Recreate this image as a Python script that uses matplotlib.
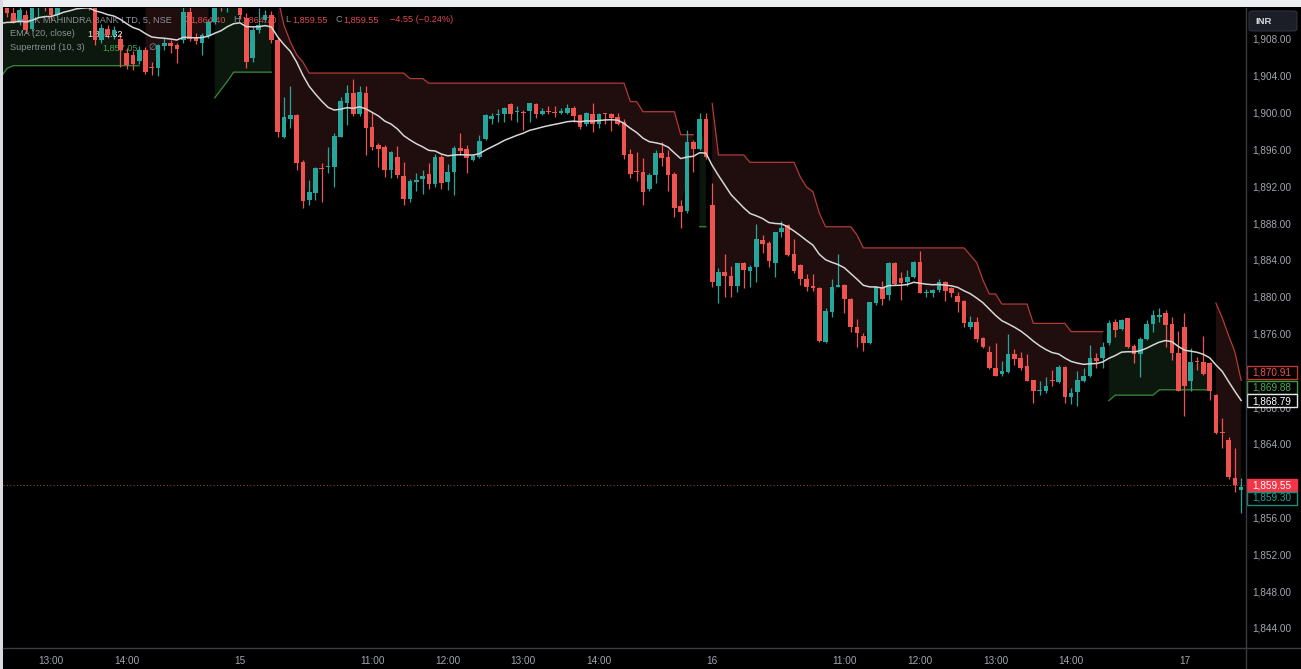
import numpy as np
import matplotlib
matplotlib.use("Agg")
import matplotlib.pyplot as plt
from matplotlib.patches import Rectangle, FancyBboxPatch
from matplotlib.lines import Line2D

# ---------------- data (5-minute bars) ----------------
opens = [
    1910.2, 1912.1, 1910.8, 1909.8, 1910.6, 1909.1, 1911.8, 1912.9, 1911.6, 1910.6,
    1912.5, 1913.4, 1912.6, 1913.2, 1912.1, 1911.8, 1907.9, 1909.1, 1908.4, 1908.0,
    1906.5, 1906.3, 1905.6, 1906.8, 1904.9, 1904.9, 1907.2, 1907.6, 1907.3, 1907.9,
    1910.9, 1908.2, 1907.6, 1908.3, 1909.8, 1913.0, 1911.5, 1913.5, 1913.2, 1910.3,
    1905.9, 1909.0, 1910.1, 1910.6, 1907.9, 1897.3, 1899.3, 1899.7, 1894.6, 1890.5,
    1891.3, 1894.0, 1894.1, 1894.1, 1897.4, 1901.1, 1902.1, 1899.8, 1902.1, 1898.4,
    1896.5, 1896.3, 1893.8, 1895.2, 1893.1, 1890.6, 1892.5, 1892.8, 1893.3, 1892.2,
    1895.2, 1892.5, 1893.5, 1896.2, 1896.0, 1894.8, 1895.2, 1897.1, 1899.3, 1899.7,
    1899.8, 1900.9, 1900.1, 1900.1, 1900.2, 1900.9, 1899.9, 1900.2, 1900.1, 1900.0,
    1900.0, 1900.5, 1899.7, 1898.8, 1899.9, 1898.8, 1899.9, 1899.9, 1899.5, 1899.0,
    1895.5, 1893.7, 1893.6, 1891.7, 1893.2, 1895.6, 1895.2, 1893.3, 1889.8, 1889.3,
    1896.8, 1896.0, 1899.3, 1890.0, 1881.2, 1882.7, 1882.2, 1881.2, 1883.7, 1882.8,
    1883.2, 1886.2, 1885.8, 1883.7, 1887.0, 1887.8, 1884.6, 1883.4, 1881.9, 1881.2,
    1880.9, 1875.1, 1878.3, 1881.1, 1881.3, 1879.8, 1876.7, 1875.7, 1875.0, 1879.3,
    1881.0, 1880.2, 1883.7, 1882.0, 1881.6, 1882.1, 1883.8, 1880.4, 1880.4, 1880.7,
    1881.6, 1880.9, 1880.1, 1879.5, 1876.7, 1877.3, 1875.5, 1874.0, 1872.3, 1871.6,
    1871.8, 1873.8, 1873.3, 1872.5, 1870.9, 1869.7, 1869.7, 1870.9, 1870.7, 1872.4,
    1869.1, 1869.6, 1870.8, 1871.4, 1873.3, 1873.3, 1875.0, 1877.2, 1876.5, 1877.7,
    1874.6, 1873.8, 1875.4, 1877.0, 1877.8, 1878.2, 1877.0, 1873.9, 1876.7, 1870.8,
    1873.0, 1872.9, 1872.8, 1869.3, 1865.3, 1864.4, 1860.3, 1859.0,
]
highs = [
    1912.6, 1912.9, 1913.0, 1911.8, 1911.2, 1912.3, 1913.4, 1913.3, 1912.3, 1913.0,
    1914.0, 1913.9, 1913.8, 1913.5, 1912.6, 1912.2, 1909.6, 1909.5, 1909.4, 1908.6,
    1907.0, 1906.7, 1907.2, 1907.1, 1905.5, 1907.5, 1908.1, 1907.9, 1907.6, 1911.5,
    1911.6, 1908.6, 1908.6, 1910.2, 1912.2, 1913.6, 1913.8, 1914.0, 1913.8, 1910.8,
    1909.3, 1911.4, 1911.2, 1911.0, 1908.2, 1901.7, 1902.9, 1899.9, 1894.8, 1892.7,
    1894.1, 1894.5, 1896.3, 1897.8, 1901.7, 1903.0, 1903.7, 1902.9, 1902.9, 1900.1,
    1896.7, 1896.5, 1895.8, 1896.4, 1894.6, 1892.8, 1893.4, 1893.8, 1894.5, 1895.5,
    1895.4, 1894.4, 1896.4, 1897.8, 1896.5, 1895.5, 1897.6, 1899.8, 1900.0, 1900.4,
    1900.6, 1901.0, 1900.7, 1900.3, 1901.0, 1901.0, 1900.5, 1900.7, 1900.7, 1900.5,
    1900.9, 1900.7, 1899.9, 1900.1, 1901.0, 1900.0, 1900.0, 1900.0, 1900.0, 1899.3,
    1896.0, 1895.7, 1895.1, 1893.4, 1895.9, 1896.8, 1895.9, 1893.5, 1890.5, 1898.1,
    1897.0, 1900.0, 1900.0, 1892.3, 1883.1, 1884.6, 1883.3, 1883.7, 1883.8, 1883.4,
    1887.9, 1886.7, 1886.0, 1887.0, 1888.2, 1887.9, 1886.3, 1883.5, 1882.5, 1882.5,
    1881.0, 1878.8, 1881.9, 1884.6, 1881.4, 1879.9, 1877.6, 1876.0, 1879.4, 1881.2,
    1881.7, 1883.8, 1883.8, 1882.7, 1882.9, 1883.9, 1885.0, 1880.8, 1880.8, 1881.9,
    1881.7, 1881.0, 1880.5, 1879.6, 1877.9, 1877.8, 1875.6, 1874.6, 1875.0, 1873.0,
    1875.9, 1874.3, 1874.0, 1873.8, 1871.0, 1870.8, 1871.3, 1872.0, 1872.6, 1872.5,
    1870.1, 1871.9, 1872.3, 1874.8, 1873.9, 1875.1, 1877.5, 1877.6, 1877.6, 1877.7,
    1874.9, 1875.6, 1877.5, 1878.5, 1878.8, 1878.5, 1877.8, 1876.3, 1878.2, 1874.4,
    1873.4, 1875.7, 1872.9, 1869.4, 1866.8, 1864.7, 1863.6, 1860.3,
]
lows = [
    1909.8, 1910.4, 1909.7, 1909.5, 1908.7, 1908.9, 1910.4, 1911.0, 1910.1, 1910.4,
    1912.0, 1912.2, 1912.1, 1911.6, 1911.2, 1907.3, 1907.6, 1908.1, 1908.0, 1905.0,
    1904.7, 1904.6, 1905.3, 1904.2, 1904.1, 1904.0, 1906.8, 1906.5, 1905.4, 1907.6,
    1907.8, 1907.5, 1906.3, 1908.1, 1909.6, 1911.0, 1910.9, 1912.0, 1910.2, 1904.9,
    1905.5, 1908.7, 1909.9, 1907.6, 1897.4, 1897.2, 1898.3, 1893.8, 1889.6, 1890.0,
    1890.5, 1890.3, 1893.4, 1891.9, 1897.3, 1898.7, 1899.6, 1899.6, 1895.4, 1895.9,
    1894.1, 1893.0, 1892.9, 1892.9, 1890.0, 1890.3, 1891.5, 1891.2, 1891.7, 1891.9,
    1891.7, 1891.6, 1891.0, 1895.4, 1893.4, 1894.7, 1895.1, 1897.0, 1898.8, 1899.0,
    1899.0, 1899.2, 1899.0, 1898.1, 1899.0, 1899.4, 1899.7, 1899.8, 1899.5, 1899.8,
    1899.8, 1899.0, 1898.2, 1898.5, 1897.9, 1898.3, 1898.8, 1898.0, 1898.7, 1895.0,
    1892.9, 1892.6, 1890.0, 1891.5, 1892.3, 1894.2, 1891.5, 1888.7, 1887.5, 1889.1,
    1893.5, 1895.9, 1895.0, 1881.0, 1879.3, 1880.0, 1880.0, 1880.5, 1880.9, 1881.0,
    1881.6, 1884.8, 1883.2, 1882.1, 1886.5, 1884.4, 1882.6, 1881.3, 1880.6, 1880.6,
    1875.1, 1875.0, 1877.8, 1881.0, 1878.2, 1876.2, 1874.5, 1874.1, 1874.9, 1879.1,
    1879.1, 1879.6, 1881.3, 1879.6, 1881.2, 1882.0, 1880.4, 1880.0, 1880.0, 1880.5,
    1879.5, 1880.0, 1878.3, 1876.7, 1876.5, 1875.1, 1874.4, 1872.1, 1871.4, 1871.4,
    1871.7, 1872.6, 1872.0, 1870.8, 1868.5, 1869.3, 1869.5, 1870.3, 1870.6, 1868.5,
    1868.3, 1868.1, 1870.7, 1871.3, 1872.3, 1872.2, 1874.8, 1875.6, 1876.4, 1874.4,
    1872.8, 1871.3, 1875.3, 1876.2, 1877.2, 1874.5, 1873.1, 1869.8, 1867.0, 1869.7,
    1872.0, 1871.5, 1868.8, 1865.1, 1863.6, 1860.2, 1858.8, 1856.5,
]
closes = [
    1912.1, 1910.8, 1909.9, 1911.2, 1909.0, 1911.8, 1912.9, 1911.6, 1910.6, 1912.5,
    1913.4, 1912.6, 1913.2, 1912.1, 1911.8, 1907.9, 1909.2, 1908.4, 1909.0, 1906.8,
    1905.2, 1905.3, 1906.8, 1904.4, 1904.8, 1907.3, 1907.6, 1907.2, 1906.9, 1910.9,
    1908.0, 1907.8, 1908.4, 1909.8, 1911.6, 1911.5, 1913.5, 1912.8, 1910.6, 1905.5,
    1909.0, 1909.5, 1910.6, 1907.9, 1897.9, 1899.5, 1899.7, 1894.5, 1890.4, 1891.4,
    1894.0, 1893.9, 1894.2, 1897.5, 1901.3, 1902.1, 1899.8, 1902.2, 1898.3, 1896.3,
    1896.0, 1893.8, 1895.7, 1893.2, 1890.6, 1892.6, 1892.7, 1893.1, 1892.2, 1895.2,
    1892.3, 1893.5, 1896.2, 1895.8, 1895.1, 1895.3, 1896.9, 1899.7, 1899.6, 1899.8,
    1900.5, 1899.8, 1900.2, 1900.0, 1901.0, 1899.8, 1900.2, 1900.1, 1900.0, 1900.2,
    1900.5, 1899.6, 1898.4, 1900.0, 1898.8, 1899.8, 1899.8, 1899.4, 1898.8, 1895.4,
    1893.3, 1893.5, 1891.4, 1893.2, 1895.6, 1895.1, 1893.2, 1889.6, 1889.2, 1896.8,
    1896.0, 1899.3, 1895.2, 1881.6, 1882.7, 1882.2, 1881.2, 1883.7, 1882.9, 1883.2,
    1886.3, 1885.7, 1883.9, 1887.0, 1887.5, 1884.5, 1882.8, 1881.9, 1881.0, 1880.9,
    1875.2, 1878.4, 1881.0, 1881.2, 1879.7, 1876.7, 1876.0, 1875.0, 1879.4, 1881.0,
    1879.8, 1883.7, 1881.4, 1881.5, 1882.1, 1883.8, 1880.4, 1880.5, 1880.7, 1881.6,
    1880.6, 1880.4, 1879.4, 1877.1, 1877.3, 1875.4, 1874.5, 1872.2, 1871.4, 1871.9,
    1873.8, 1873.2, 1872.3, 1870.8, 1869.7, 1869.9, 1870.3, 1870.8, 1872.4, 1869.1,
    1869.5, 1871.0, 1871.4, 1873.3, 1873.0, 1874.5, 1877.1, 1876.4, 1877.5, 1874.5,
    1873.8, 1875.4, 1877.0, 1878.0, 1878.0, 1876.9, 1873.9, 1869.8, 1870.3, 1872.9,
    1872.9, 1871.6, 1869.8, 1865.2, 1865.2, 1860.4, 1859.55, 1859.3,
]

# Supertrend (10, 3) levels as runs: (first bar, last bar, level)
st_down_runs = [
    (23, 33, 1912.5),
    (44, 44, 1912.5), (45, 45, 1909.5), (46, 46, 1907.7), (47, 47, 1906.3),
    (48, 48, 1905.5), (49, 64, 1904.3), (65, 67, 1903.7), (68, 99, 1903.2),
    (100, 101, 1901.2), (102, 107, 1900.1), (108, 110, 1897.6),
    (113, 113, 1901.0), (114, 118, 1895.4), (119, 126, 1894.6), (127, 127, 1893.0),
    (128, 128, 1891.9), (129, 129, 1891.4), (130, 130, 1889.1), (131, 135, 1887.6),
    (136, 136, 1886.7), (137, 153, 1885.3), (154, 154, 1884.5), (155, 155, 1883.7),
    (156, 156, 1881.8), (157, 158, 1880.3), (159, 163, 1879.2), (164, 169, 1877.1),
    (170, 175, 1876.2),
    (193, 193, 1879.3), (194, 194, 1877.7), (195, 195, 1875.8), (196, 196, 1874.0),
    (197, 197, 1870.91),
]
st_up_runs = [
    (0, 0, 1903.8), (1, 1, 1904.8), (2, 22, 1905.1),
    (34, 34, 1901.6), (35, 35, 1902.5), (36, 36, 1903.4), (37, 43, 1904.4),
    (111, 112, 1887.6),
    (176, 176, 1868.7), (177, 183, 1869.3), (184, 192, 1869.88),
]
ema_start = 1909.7   # EMA(20) value at the first visible bar
ema_len = 20

time_ticks = [8, 20, 38, 59, 71, 83, 95, 113, 134, 146, 158, 170, 188]
time_labels = ["13:00", "14:00", "15", "11:00", "12:00", "13:00", "14:00",
               "16", "11:00", "12:00", "13:00", "14:00", "17"]
price_ticks = list(range(1844, 1912, 4))
hidden_price_ticks = [1860, 1872]   # covered by the last-value labels

symbol_title = "KOTAK MAHINDRA BANK LTD, 5, NSE"
ohlc_legend = [("O", "1,864.40"), ("H", "1,864.70"), ("L", "1,859.55"), ("C", "1,859.55")]
change_text = "\u22124.55 (\u22120.24%)"
ema_legend = ("EMA (20, close)", "1,862.32")
st_legend = ("Supertrend (10, 3)", "1,857.05", "\u2205")
last_st_down, last_st_up, last_ema, last_close, last_price = 1870.91, 1869.88, 1868.79, 1859.55, 1859.30

# ---------------- derived ----------------
o = np.array(opens); h = np.array(highs); l = np.array(lows); c = np.array(closes)
n = len(o)
idx = np.arange(n)
alpha = 2.0 / (ema_len + 1)
ema = np.empty(n)
prev = ema_start
for i in range(n):
    prev = prev if i == 0 else alpha * c[i] + (1 - alpha) * prev
    ema[i] = prev

st_dn = np.full(n, np.nan)
for a, b, v in st_down_runs:
    st_dn[a:b + 1] = v
st_up = np.full(n, np.nan)
for a, b, v in st_up_runs:
    st_up[a:b + 1] = v
mid = (o + c) / 2

# ---------------- figure ----------------
W, H = 1301, 669
plt.rcParams["font.family"] = ["Liberation Sans", "DejaVu Sans"]
fig = plt.figure(figsize=(W / 100, H / 100), dpi=100, facecolor="black")

def fx(px):
    return px / W

def fy(py):
    return 1 - py / H

AX_L, AX_R, AX_T, AX_B = 3, 1245.7, 8, 648
ax = fig.add_axes([fx(AX_L), fy(AX_B), fx(AX_R) - fx(AX_L), fy(AX_T) - fy(AX_B)])
ax.set_facecolor("black")
PX_PER_BAR = 6.297
X0_PX = 0.64
ax.set_xlim((AX_L - X0_PX) / PX_PER_BAR, (AX_R - X0_PX) / PX_PER_BAR)
ppu = 9.203
ax.set_ylim(1908 - (AX_B - 39) / ppu, 1908 + (39 - AX_T) / ppu)
for s in ax.spines.values():
    s.set_visible(False)

UP, DN = "#26a69a", "#ef5350"
cols = np.where(c >= o, UP, DN)

# supertrend fills and lines
ax.fill_between(idx, st_dn, mid, where=~np.isnan(st_dn), color="#200d0e", lw=0, zorder=1)
ax.fill_between(idx, st_up, mid, where=~np.isnan(st_up), color="#0c180d", lw=0, zorder=1)
ax.plot(idx, st_dn, color="#b23b38", lw=0.9, zorder=2)
ax.plot(idx, st_up, color="#3a8c3e", lw=0.9, zorder=2)

# candles
body_lo = np.minimum(o, c)
body_h = np.maximum(np.abs(c - o), 0.12)
ax.vlines(idx, l, h, colors=cols, lw=0.9, zorder=3)
ax.bar(idx, body_h, bottom=body_lo, width=0.74, color=cols, lw=0, zorder=4)

# EMA
ax.plot(idx, ema, color="#d6d6d6", lw=1.1, zorder=5)

# last price line
ax.axhline(last_close, color="#8a4848", lw=0.8, ls=(0, (1, 2)), zorder=2)

# axes ticks
fs = 7.2
ax.set_xticks(time_ticks)
ax.set_xticklabels(time_labels)
ax.set_yticks(price_ticks)
ax.set_yticklabels(["" if v in hidden_price_ticks else f"{v:,.2f}" for v in price_ticks])
ax.yaxis.tick_right()
ax.tick_params(axis="both", length=0, colors="#a3a6af", labelsize=fs)
ax.tick_params(axis="x", pad=6)
ax.tick_params(axis="y", pad=5)

# header legend (candle bodies are drawn over it)
lfs = 6.6
gray = "#8d9099"
t_items = [(10, 20, symbol_title, gray)]
xs = [(182, 190), (233, 241), (285, 292), (335, 343)]
for (lx, vx), (lab, val) in zip(xs, ohlc_legend):
    t_items.append((lx, 20, lab, gray))
    t_items.append((vx, 20, val, "#e0484f"))
t_items.append((390, 20, change_text, "#e0484f"))
t_items.append((10, 34, ema_legend[0], gray))
t_items.append((87, 34, ema_legend[1], "#f0f0f0"))
t_items.append((10, 48, st_legend[0], gray))
t_items.append((102, 48, st_legend[1], "#45a349"))
t_items.append((148, 48, st_legend[2], gray))
for x, y, s, col in t_items:
    ax.text(fx(x), fy(y), s, color=col, fontsize=lfs, va="center", ha="left",
            transform=fig.transFigure, zorder=3.5)

# frame details
fig.add_artist(Rectangle((0, fy(7)), 1, 7 / H, transform=fig.transFigure,
                         facecolor="#eceef2", edgecolor="none"))
fig.add_artist(Rectangle((0, 0), fx(2.5), 1, transform=fig.transFigure,
                         facecolor="#d9dbe0", edgecolor="none"))
fig.add_artist(Line2D([fx(AX_L), 1], [fy(AX_B), fy(AX_B)], transform=fig.transFigure,
                      color="#3a3d46", lw=1))
fig.add_artist(Line2D([fx(AX_R), fx(AX_R)], [0, fy(AX_T)], transform=fig.transFigure,
                      color="#3a3d46", lw=1))

# INR button
fig.add_artist(FancyBboxPatch((fx(1249), fy(31)), fx(48), 20 / H,
                              boxstyle="round,pad=0,rounding_size=0.003",
                              transform=fig.transFigure, facecolor="#1b1e27",
                              edgecolor="#2e323d", lw=0.8))
fig.text(fx(1264), fy(21), "INR", color="#d8dae0", fontsize=6.8, va="center", ha="center",
         fontweight="bold")

# right price labels
def price_label(ycen, text, edge, face, tcol):
    fig.add_artist(Rectangle((fx(1247), fy(ycen + 6.5)), fx(50), 13 / H,
                             transform=fig.transFigure, facecolor=face, edgecolor=edge, lw=1))
    fig.text(fx(1272), fy(ycen), text, color=tcol, fontsize=fs, va="center", ha="center")

price_label(372, f"{last_st_down:,.2f}", "#c0363a", "black", "#ef5350")
price_label(387, f"{last_st_up:,.2f}", "#3f9a43", "black", "#4caf50")
price_label(401, f"{last_ema:,.2f}", "#e8e8e8", "black", "#ffffff")
price_label(485, f"{last_close:,.2f}", "#f23645", "#f23645", "#ffffff")
price_label(498, f"{last_price:,.2f}", "#1f8a7f", "black", "#26a69a")

fig.savefig("out.png", dpi=100, facecolor="black")
